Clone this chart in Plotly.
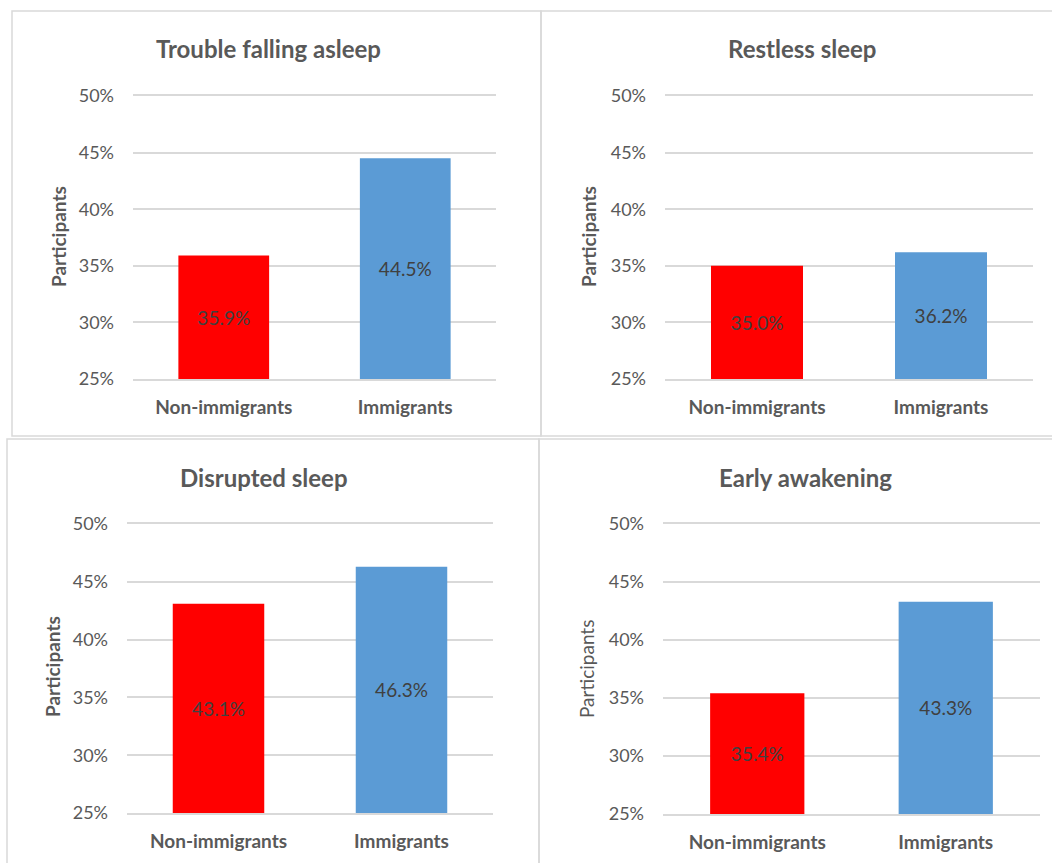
import plotly.graph_objects as go

W, H = 1052, 863

categories = ["Non-immigrants", "Immigrants"]
titles = ["Trouble falling asleep", "Restless sleep", "Disrupted sleep", "Early awakening"]
trouble_falling_asleep = [35.9, 44.5]
restless_sleep = [35.0, 36.2]
disrupted_sleep = [43.1, 46.3]
early_awakening = [35.4, 43.3]
series = [trouble_falling_asleep, restless_sleep, disrupted_sleep, early_awakening]
y_ticks = [25, 30, 35, 40, 45, 50]
y_tick_labels = ["25%", "30%", "35%", "40%", "45%", "50%"]
axis_base = 25

bar_colors = ["#FF0000", "#5B9BD5"]
grey = "#595959"
grid = "#D9D9D9"
FONT = "Lato"

# pixel layouts: plot area (x0, x1, ytop, ybottom)
areas = [
    (133, 496, 96, 379),
    (665, 1033, 96, 379),
    (127, 493, 524, 813),
    (663, 1040, 524, 814),
]
title_pos = [(268, 48), (802, 48), (264, 477), (805, 477)]
ytitle_pos = [(58, 237), (588, 237), (52, 667), (586, 669)]
ytitle_bold = [True, True, True, False]
panels = [(12, 11, 541, 436), (541, 11, 1070, 436), (7, 439, 539, 880), (539, 439, 1070, 880)]


def px(x):
    return x / W


def py(y):
    return 1 - y / H


fig = go.Figure()
layout = {}
annotations = []
shapes = []

for i, (vals, title) in enumerate(zip(series, titles)):
    n = "" if i == 0 else str(i + 1)
    fig.add_trace(go.Bar(
        x=categories,
        y=[v - axis_base for v in vals],
        base=[axis_base] * len(vals),
        marker=dict(color=bar_colors, line=dict(width=0)),
        text=[f"{v:.1f}%" for v in vals],
        textposition="inside",
        insidetextanchor="middle",
        textangle=0,
        textfont=dict(family=FONT, size=19, color="#404040"),
        xaxis="x" + n, yaxis="y" + n,
        showlegend=False,
        hoverinfo="skip",
        cliponaxis=False,
    ))
    x0, x1, yt, yb = areas[i]
    layout["xaxis" + n] = dict(
        domain=[px(x0), px(x1)], anchor="y" + n,
        showgrid=False, zeroline=False,
        showline=True, mirror=True, linecolor=grid, linewidth=1.5,
        ticks="", automargin=False,
        tickfont=dict(family=FONT, size=19, color=grey, weight="bold"),
        ticklabelstandoff=10,
        fixedrange=True,
    )
    layout["yaxis" + n] = dict(
        domain=[py(yb), py(yt)], anchor="x" + n,
        range=[25, 50], tickvals=y_ticks, ticktext=y_tick_labels,
        showgrid=True, gridcolor=grid, gridwidth=1.5,
        zeroline=False, showline=False, ticks="", automargin=False,
        tickfont=dict(family=FONT, size=18, color=grey),
        ticklabelstandoff=18,
        fixedrange=True,
    )
    tx, ty = title_pos[i]
    annotations.append(dict(
        text=title, x=px(tx), y=py(ty), xref="paper", yref="paper",
        showarrow=False, xanchor="center", yanchor="middle",
        font=dict(family=FONT, size=24, color=grey, weight="bold"),
    ))
    ax, ay = ytitle_pos[i]
    annotations.append(dict(
        text="Participants", x=px(ax), y=py(ay), xref="paper", yref="paper",
        showarrow=False, xanchor="center", yanchor="middle", textangle=-90,
        font=dict(family=FONT, size=19, color=grey,
                  weight="bold" if ytitle_bold[i] else "normal"),
    ))
    bx0, by0, bx1, by1 = panels[i]
    shapes.append(dict(
        type="rect", xref="paper", yref="paper",
        x0=px(bx0), x1=px(bx1), y0=py(by1), y1=py(by0),
        line=dict(color=grid, width=1.5), fillcolor="rgba(0,0,0,0)",
    ))

fig.update_layout(
    width=W, height=H, autosize=False,
    margin=dict(l=0, r=0, t=0, b=0, pad=0, autoexpand=False),
    paper_bgcolor="white", plot_bgcolor="white",
    bargap=0.5,
    showlegend=False,
    annotations=annotations,
    shapes=shapes,
    **layout,
)

fig.write_html("out.html")
